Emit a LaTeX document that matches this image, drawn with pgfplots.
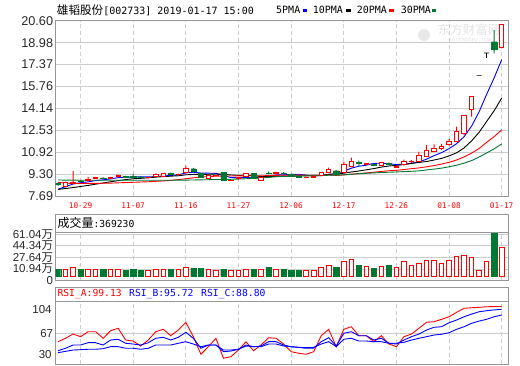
\documentclass[border=0pt]{standalone}
\usepackage{pgfplots}
\pgfplotsset{compat=1.18}
\usepackage{pgfplotstable}
\usepackage{fontspec}
\setmainfont{Liberation Sans}
\newfontfamily\cjk{Noto Sans CJK SC}
\newfontfamily\mono{DejaVu Sans Mono}
\definecolor{kred}{RGB}{255,0,0}
\definecolor{kgreen}{RGB}{0,120,52}
\definecolor{kblue}{RGB}{0,0,255}
\definecolor{gridc}{RGB}{205,205,205}
\definecolor{framec}{RGB}{150,150,150}
\definecolor{tickc}{RGB}{40,40,40}

% up (red, hollow) candles
\pgfplotstableread{
x open high low close
1 8.40 8.74 8.32 8.70
2 8.62 9.53 8.58 8.72
4 8.82 9.09 8.78 8.90
5 8.98 9.10 8.95 9.04
7 8.98 9.10 8.95 9.05
8 9.10 9.26 9.05 9.22
12 9.02 9.10 8.98 9.05
13 9.12 9.35 9.08 9.30
14 9.16 9.38 9.12 9.34
16 9.28 9.34 9.20 9.30
17 9.42 9.90 9.38 9.73
20 9.00 9.26 8.95 9.22
21 9.20 9.26 9.15 9.22
23 8.84 8.90 8.80 8.86
24 8.95 9.05 8.90 9.02
25 9.14 9.36 9.10 9.32
27 8.82 9.10 8.80 9.06
29 9.38 9.46 9.34 9.42
33 9.04 9.12 9.00 9.08
34 9.08 9.16 9.04 9.14
35 9.22 9.45 9.18 9.43
36 9.42 9.78 9.40 9.68
38 9.41 10.22 9.38 10.02
39 9.86 10.51 9.82 10.27
41 10.02 10.10 9.96 10.06
43 9.96 10.20 9.92 10.16
45 9.80 9.92 9.76 9.86
46 9.98 10.36 9.94 10.22
47 10.20 10.34 10.12 10.24
48 10.22 10.95 10.20 10.64
49 10.58 11.45 10.55 11.03
50 10.95 11.50 10.92 11.17
51 11.17 11.52 11.08 11.32
52 11.45 11.89 11.40 11.74
53 11.69 12.79 11.65 12.43
54 12.31 13.65 12.15 13.65
55 14.08 15.05 13.53 15.05
59 18.61 20.34 18.58 20.34
}\upc

% down (green, filled) candles
\pgfplotstableread{
x open high low close
0 8.60 8.70 8.43 8.55
3 8.82 8.85 8.72 8.78
6 9.02 9.08 8.92 8.98
9 9.16 9.18 9.05 9.08
10 9.12 9.32 9.00 9.10
11 9.10 9.15 9.02 9.05
15 9.36 9.42 9.22 9.28
18 9.70 9.76 9.50 9.53
19 9.36 9.40 9.05 9.08
22 9.41 9.44 8.85 8.88
26 9.34 9.38 8.98 9.02
28 9.40 9.48 9.30 9.38
30 9.40 9.44 9.30 9.36
31 9.30 9.34 9.14 9.18
32 9.16 9.20 9.06 9.10
37 9.55 9.60 9.28 9.31
40 10.16 10.29 9.85 10.12
42 10.02 10.08 9.90 9.96
44 10.10 10.14 9.96 10.02
58 19.05 19.92 18.20 18.49
}\dnc

% one-price / T candles (black)
\pgfplotstableread{
x open high low close
56 16.56 16.56 16.56 16.56
57 18.22 18.22 17.85 18.22
}\flc

% moving averages
\pgfplotstableread{
x ma5 ma10 ma20 ma30
0 8.18 8.18 8.70 8.87
1 8.38 8.24 8.63 8.86
2 8.57 8.31 8.62 8.86
3 8.67 8.39 8.62 8.85
4 8.73 8.47 8.62 8.85
5 8.83 8.56 8.62 8.85
6 8.88 8.65 8.63 8.85
7 8.95 8.74 8.64 8.85
8 9.04 8.82 8.66 8.85
9 9.07 8.90 8.68 8.85
10 9.09 8.96 8.70 8.85
11 9.10 8.99 8.72 8.85
12 9.10 9.03 8.74 8.85
13 9.12 9.08 8.77 8.85
14 9.17 9.12 8.80 8.85
15 9.20 9.15 8.84 8.85
16 9.25 9.18 8.90 8.86
17 9.39 9.25 8.96 8.86
18 9.44 9.28 9.03 8.87
19 9.38 9.28 9.09 8.88
20 9.37 9.29 9.12 8.89
21 9.36 9.31 9.15 8.90
22 9.19 9.29 9.16 8.91
23 9.05 9.24 9.16 8.92
24 9.04 9.21 9.17 8.94
25 9.06 9.22 9.18 8.96
26 9.02 9.19 9.18 8.99
27 9.06 9.12 9.18 9.02
28 9.16 9.11 9.19 9.06
29 9.24 9.14 9.21 9.11
30 9.25 9.15 9.22 9.13
31 9.28 9.15 9.23 9.15
32 9.29 9.17 9.23 9.16
33 9.23 9.19 9.22 9.17
34 9.17 9.21 9.21 9.18
35 9.19 9.22 9.22 9.19
36 9.29 9.28 9.24 9.22
37 9.33 9.31 9.21 9.22
38 9.52 9.37 9.24 9.25
39 9.74 9.46 9.30 9.29
40 9.88 9.53 9.34 9.33
41 9.96 9.62 9.39 9.36
42 10.09 9.71 9.44 9.39
43 10.11 9.82 9.50 9.42
44 10.06 9.90 9.55 9.44
45 10.01 9.95 9.58 9.46
46 10.04 10.00 9.64 9.49
47 10.10 10.09 9.70 9.51
48 10.20 10.16 9.76 9.54
49 10.40 10.23 9.84 9.61
50 10.66 10.34 9.93 9.67
51 10.88 10.46 10.04 9.74
52 11.18 10.64 10.17 9.84
53 11.54 10.87 10.34 9.96
54 12.06 11.23 10.57 10.11
55 12.84 11.75 10.85 10.30
56 13.89 12.38 11.19 10.56
57 15.18 13.18 11.64 10.86
58 16.39 13.97 12.06 11.16
59 17.73 14.90 12.56 11.53
}\ma

% volume (10k shares)
\pgfplotstableread{
x v
1 4.74
2 8.08
4 4.74
5 4.74
7 4.74
8 4.74
12 3.3
13 4.74
14 4.74
16 4.74
17 7.6
20 4.74
21 3.3
23 3.3
24 3.3
25 4.74
27 4.74
29 4.74
33 3.3
34 3.3
35 7.6
36 10.94
38 16.2
39 19.05
41 9.5
43 9.5
45 7.6
46 16.2
47 10.94
48 13.8
49 18.1
50 18.1
51 13.8
52 18.1
53 23.8
54 25.25
55 22.4
56 3.3
57 16.2
59 36.92
}\volup
\pgfplotstableread{
x v
0 5.2
3 5.2
6 5.2
9 3.78
10 5.2
11 3.78
15 5.2
18 6.65
19 6.65
22 5.2
26 5.2
28 8.08
30 5.2
31 3.78
32 3.78
37 8.08
40 10.94
42 6.65
44 10.94
58 56.7
}\voldn

% RSI
\pgfplotstableread{
x a b c
0 56.8 46.0 43.6
1 60.9 48.9 45.2
2 66.0 52.8 46.8
3 62.8 52.8 47.2
4 68.8 55.6 47.7
5 68.8 55.6 47.7
6 60.9 52.8 48.4
7 70.0 58.8 50.8
8 72.9 59.7 50.8
9 58.8 54.9 48.9
10 57.6 54.0 48.9
11 51.6 52.8 47.7
12 58.8 55.6 48.9
13 68.8 60.9 52.8
14 71.7 62.1 52.8
15 64.0 58.8 52.8
16 70.8 62.1 54.9
17 80.1 68.1 56.8
18 62.8 60.9 54.0
19 41.7 48.9 50.8
20 50.8 52.8 52.8
21 60.9 52.8 52.8
22 36.9 44.8 46.8
23 38.8 45.6 46.8
24 46.8 47.7 47.7
25 56.8 52.8 51.6
26 46.0 50.8 50.8
27 52.8 51.6 50.8
28 61.6 56.8 54.0
29 60.9 56.8 54.0
30 54.0 52.8 51.6
31 44.8 50.8 50.8
32 42.9 50.0 50.0
33 41.7 48.9 49.6
34 44.8 48.9 50.0
35 64.0 56.8 54.0
36 71.7 61.6 56.8
37 50.8 51.6 50.8
38 71.7 66.9 59.7
39 74.8 68.8 60.9
40 64.0 64.0 57.6
41 64.0 64.0 57.6
42 56.8 58.8 56.8
43 64.0 60.9 56.8
44 54.0 54.9 54.9
45 50.8 54.0 54.9
46 62.8 58.8 56.1
47 66.0 62.8 58.8
48 72.9 66.0 60.9
49 80.1 70.8 62.8
50 80.8 74.1 64.8
51 83.7 74.8 65.7
52 86.8 79.6 67.6
53 92.1 82.8 71.7
54 96.9 86.8 74.8
55 97.6 90.0 78.9
56 98.1 92.8 81.6
57 98.8 94.0 83.7
58 99.0 95.0 86.8
59 99.13 95.72 88.80
}\rsi

\newcommand\ticksz{\fontsize{12.7}{13}\selectfont}
\pgfplotsset{
  panel/.style={scale only axis, width=452.6pt, xmin=-0.306, xmax=59.88,
    anchor=south west, clip=true, major tick length=0pt},
  pmain/.style={panel, at={(55.7pt,169pt)}, height=175.3pt, ymin=7.69, ymax=20.60},
  pvol/.style={panel, at={(55.7pt,84.5pt)}, height=47.8pt, ymin=-5.6, ymax=63.3},
  prsi/.style={panel, at={(55.7pt,1pt)}, height=63pt, ymin=30, ymax=105.7},
  ov/.style={hide axis, ybar stacked, bar width=#1},
  hgrid/.style={axis line style={draw=none}, xtick=\empty, ymajorgrids,
    grid style={gridc, line width=0.9pt},
    yticklabel style={text=tickc, inner sep=0pt, xshift=-2.4pt}},
  vgrid/.style={axis line style={framec, line width=0.9pt}, ytick=\empty,
    xtick={3,10,17,24,31,38,45,52,59}, xmajorgrids,
    grid style={gridc, line width=0.9pt, dash pattern=on 4pt off 3pt}},
}

\begin{document}
\begin{tikzpicture}
\path[use as bounding box] (0,0) rectangle (520pt,365pt);

% watermark (behind everything)
\node[text=gray!22, inner sep=0pt] at (469pt,335pt) {\cjk\fontsize{12.5}{13}\selectfont 东方财富网};
\node[text=gray!22, inner sep=0pt] at (470pt,325pt) {\mono\fontsize{5.5}{6}\selectfont eastmoney.com};
\fill[gray!18] (424pt,330pt) circle (6pt);

% ---------------- main price panel ----------------
\begin{axis}[pmain, hgrid,
  ytick={7.69,9.30,10.92,12.53,14.14,15.76,17.37,18.98,20.60},
  yticklabels={7.69,9.30,10.92,12.53,14.14,15.76,17.37,18.98,20.60},
  yticklabel style={font=\ticksz}]
\end{axis}
\begin{axis}[pmain, vgrid,
  xticklabels={10-29,11-07,11-16,11-27,12-06,12-17,12-26,01-08,01-17},
  xticklabel style={text=red, font=\mono\fontsize{7.8}{9}\selectfont, anchor=center, yshift=-9.7pt}]
\addplot[kblue, line width=0.9pt] table[x=x, y=ma5] {\ma};
\addplot[black, line width=0.9pt] table[x=x, y=ma10] {\ma};
\addplot[kred, line width=0.9pt] table[x=x, y=ma20] {\ma};
\addplot[kgreen, line width=0.9pt] table[x=x, y=ma30] {\ma};
\end{axis}
% wicks
\begin{axis}[pmain, ov=1pt]
\addplot[draw=none, fill=none] table[x=x, y=low] {\upc};
\addplot[draw=none, fill=kred] table[x=x, y expr=\thisrow{high}-\thisrow{low}] {\upc};
\end{axis}
\begin{axis}[pmain, ov=1pt]
\addplot[draw=none, fill=none] table[x=x, y=low] {\dnc};
\addplot[draw=none, fill=kgreen] table[x=x, y expr=\thisrow{high}-\thisrow{low}] {\dnc};
\end{axis}
\begin{axis}[pmain, ov=1pt]
\addplot[draw=none, fill=none] table[x=x, y=low] {\flc};
\addplot[draw=none, fill=black] table[x=x, y expr=\thisrow{high}-\thisrow{low}] {\flc};
\end{axis}
% bodies
\begin{axis}[pmain, ov=4.4pt]
\addplot[draw=none, fill=none] table[x=x, y expr={min(\thisrow{open},\thisrow{close})}] {\upc};
\addplot[draw=kred, fill=white, line width=0.9pt] table[x=x, y expr={abs(\thisrow{close}-\thisrow{open})}] {\upc};
\end{axis}
\begin{axis}[pmain, ov=5.2pt]
\addplot[draw=none, fill=none] table[x=x, y expr={min(\thisrow{open},\thisrow{close})}] {\dnc};
\addplot[draw=kgreen, fill=kgreen, line width=0.3pt] table[x=x, y expr={abs(\thisrow{close}-\thisrow{open})}] {\dnc};
\end{axis}
\begin{axis}[pmain, ov=5pt]
\addplot[draw=none, fill=none] table[x=x, y expr={min(\thisrow{open},\thisrow{close})-0.02}] {\flc};
\addplot[draw=none, fill=black] table[x=x, y expr={abs(\thisrow{close}-\thisrow{open})+0.04}] {\flc};
\end{axis}

% ---------------- volume panel ----------------
\begin{axis}[pvol, hgrid,
  ytick={10.94,27.64,44.34,61.04},
  yticklabels={10.94{\cjk 万},27.64{\cjk 万},44.34{\cjk 万},61.04{\cjk 万}},
  extra y ticks={-5.6}, extra y tick labels={0},
  yticklabel style={font=\fontsize{11.5}{12}\selectfont}]
\end{axis}
\begin{axis}[pvol, vgrid, xticklabels={}]
\end{axis}
\begin{axis}[pvol, ov=4.6pt]
\addplot[draw=none, fill=none] table[x=x, y expr=-5.6] {\volup};
\addplot[draw=kred, fill=white, line width=0.9pt] table[x=x, y expr=\thisrow{v}+5.6] {\volup};
\end{axis}
\begin{axis}[pvol, ov=5.4pt]
\addplot[draw=none, fill=none] table[x=x, y expr=-5.6] {\voldn};
\addplot[draw=kgreen, fill=kgreen, line width=0.3pt] table[x=x, y expr=\thisrow{v}+5.6] {\voldn};
\end{axis}
\draw[framec, line width=0.9pt] (55.7pt,132.3pt) rectangle (508.3pt,151pt);
\node[anchor=west, inner sep=0pt] at (57.3pt,141.7pt)
  {\cjk\fontsize{12}{13}\selectfont 成交量\mono\fontsize{9.7}{11}\selectfont:369230};

% ---------------- RSI panel ----------------
\begin{axis}[prsi, hgrid, ytick={67}, yticklabels={67},
  yticklabel style={font=\fontsize{11.5}{12}\selectfont}]
\end{axis}
\begin{axis}[prsi, vgrid, xticklabels={}]
\addplot[kred, line width=0.9pt] table[x=x, y=a] {\rsi};
\addplot[kblue, line width=0.9pt] table[x=x, y=b] {\rsi};
\addplot[kblue, line width=0.9pt] table[x=x, y=c] {\rsi};
\end{axis}
\node[anchor=east, inner sep=0pt, text=tickc, font=\fontsize{11.5}{12}\selectfont] at (51.8pt,55pt) {104};
\node[anchor=east, inner sep=0pt, text=tickc, font=\fontsize{11.5}{12}\selectfont] at (51.8pt,10pt) {30};
\draw[framec, line width=0.9pt] (55.7pt,64pt) rectangle (508.3pt,77.7pt);
\node[anchor=west, inner sep=0pt, font=\mono\fontsize{9.7}{11}\selectfont] at (57.3pt,71pt)
  {\textcolor{kred}{RSI\_A:99.13}};
\node[anchor=west, inner sep=0pt, font=\mono\fontsize{9.7}{11}\selectfont] at (129pt,71pt)
  {\textcolor{kblue}{RSI\_B:95.72}};
\node[anchor=west, inner sep=0pt, font=\mono\fontsize{9.7}{11}\selectfont] at (201pt,71pt)
  {\textcolor{kblue}{RSI\_C:88.80}};

% ---------------- title and legend ----------------
\node[anchor=west, inner sep=0pt] at (56.7pt,355pt)
  {\cjk\fontsize{11.6}{12}\selectfont 雄韬股份\mono\fontsize{10}{12}\selectfont[002733] 2019-01-17 15:00};
\node[anchor=west, inner sep=0pt, font=\mono\fontsize{10}{12}\selectfont] at (276pt,355pt) {5PMA};
\fill[kblue] (302.7pt,353.3pt) rectangle (307.3pt,355.8pt);
\node[anchor=west, inner sep=0pt, font=\mono\fontsize{10}{12}\selectfont] at (312.7pt,355pt) {10PMA};
\fill[black] (346pt,353.3pt) rectangle (350.7pt,355.8pt);
\node[anchor=west, inner sep=0pt, font=\mono\fontsize{10}{12}\selectfont] at (356.7pt,355pt) {20PMA};
\fill[kred] (389.3pt,353.3pt) rectangle (393.8pt,355.8pt);
\node[anchor=west, inner sep=0pt, font=\mono\fontsize{10}{12}\selectfont] at (400.7pt,355pt) {30PMA};
\fill[kgreen] (431.7pt,353.3pt) rectangle (436.2pt,355.8pt);
\end{tikzpicture}
\end{document}
